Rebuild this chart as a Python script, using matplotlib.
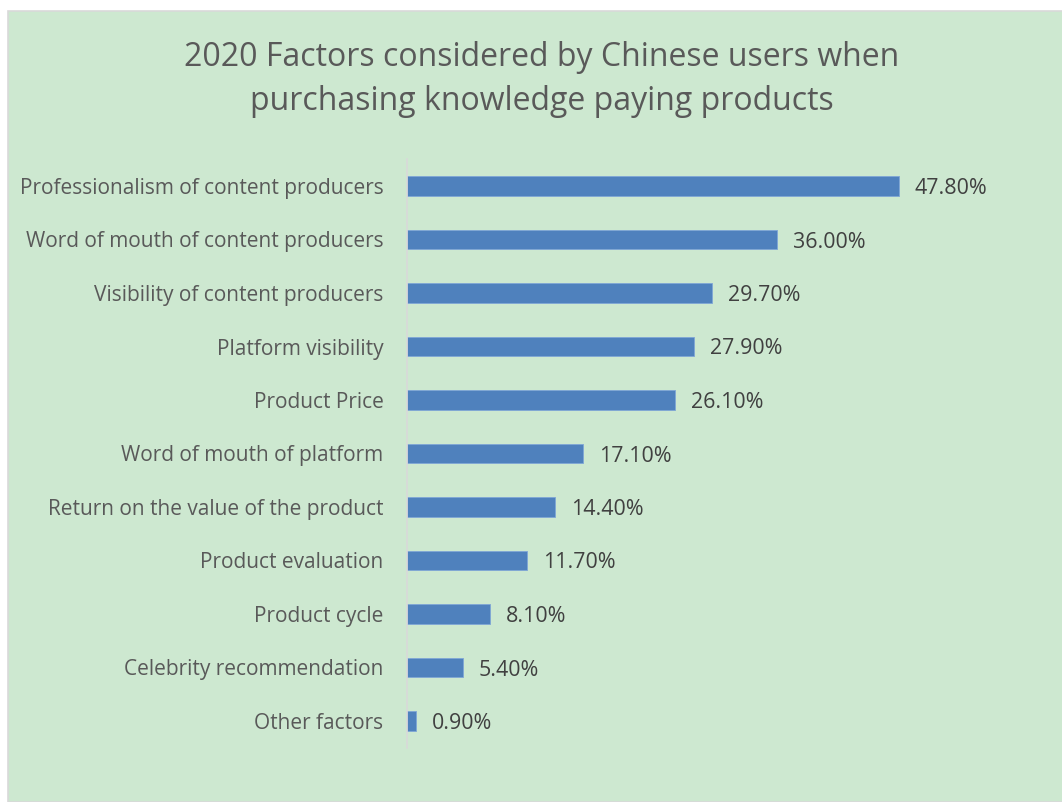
import matplotlib
matplotlib.use("Agg")
import matplotlib.pyplot as plt
from matplotlib.patches import Rectangle

categories = [
    "Professionalism of content producers",
    "Word of mouth of content producers",
    "Visibility of content producers",
    "Platform visibility",
    "Product Price",
    "Word of mouth of platform",
    "Return on the value of the product",
    "Product evaluation",
    "Product cycle",
    "Celebrity recommendation",
    "Other factors",
]
values = [47.8, 36.0, 29.7, 27.9, 26.1, 17.1, 14.4, 11.7, 8.1, 5.4, 0.9]
title_lines = ["2020 Factors considered by Chinese users when",
               "purchasing knowledge paying products"]

W, H = 1062, 802
BG = "#cde8d0"
TXT = "#595959"
BAR = "#4f81bd"
FONT = "Open Sans"

fig = plt.figure(figsize=(W / 100, H / 100), dpi=100)
fig.patch.set_facecolor("white")
fig.patches.append(Rectangle((8 / W, 0), 1, (H - 11) / H, transform=fig.transFigure,
                             facecolor=BG, edgecolor="#d9d9d9", linewidth=1.2, zorder=-10))

ax = fig.add_axes([407 / W, (H - 747.75) / H, (1024 - 407) / W, 588.5 / H])
ax.set_zorder(5)
ax.set_facecolor("none")
ypos = list(range(len(categories)))
ax.barh(ypos, values, height=0.36, color=BAR, edgecolor="#7fa6d6", linewidth=0.6)
ax.set_xlim(0, 60)
ax.set_ylim(len(categories) - 0.5, -0.5)
ax.set_yticks(ypos)
ax.set_yticklabels(categories, fontsize=15, color=TXT, family=FONT)
for t in ax.get_yticklabels():
    t.set_verticalalignment("center_baseline")
ax.tick_params(axis="y", length=0, pad=17)
ax.set_xticks([])
for s in ["top", "right", "bottom"]:
    ax.spines[s].set_visible(False)
ax.spines["left"].set_color("#d9d9d9")
ax.spines["left"].set_linewidth(1.2)

for y, v in zip(ypos, values):
    ax.annotate(f"{v:.2f}%", (v, y), xytext=(11.5, 0), textcoords="offset points",
                va="center_baseline", ha="left", fontsize=15.4, color="#404040", family=FONT)

for i, line in enumerate(title_lines):
    fig.text(542 / W, 1 - (57 + 45 * i) / H, line, ha="center", va="center",
             fontsize=23, color=TXT, family=FONT, zorder=6)

fig.savefig("out.png", dpi=100)
